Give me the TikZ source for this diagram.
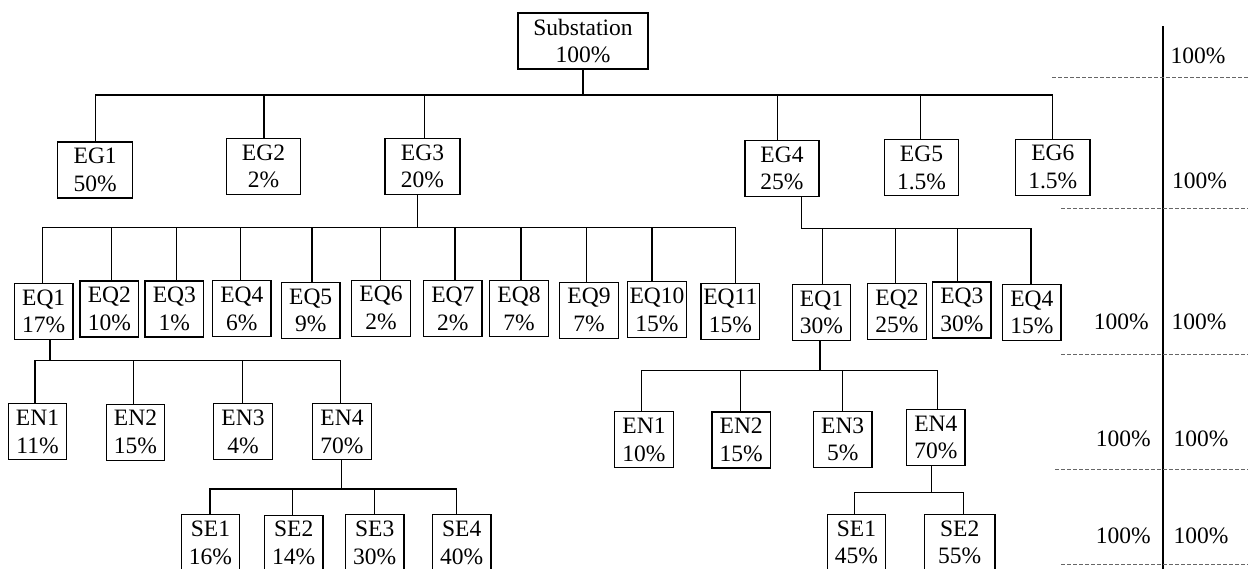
\documentclass[tikz,border=0pt]{standalone}
\usepackage{fontspec}
\setmainfont{Liberation Serif}
\newcommand\bxfont{\fontsize{23.5}{27.7}\selectfont}
\tikzset{
  box/.style={draw, line width=1.2pt, align=center, inner sep=0pt,
    minimum width=#1, minimum height=56pt, font=\bxfont},
  box/.default=58.5pt,
  wire/.style={line width=1.2pt, line cap=rect},
  pct/.style={inner sep=0pt, font=\bxfont},
  guide/.style={line width=1pt, draw=black!60, dash pattern=on 3.5pt off 2.5pt},
  vline/.style={line width=1.1pt}
}
\newcommand\stm[3]{\draw[wire] ([xshift=#2pt]#1.north) -- ([xshift=#2pt]#1.north |- #3);}
\newcommand\drp[3]{\draw[wire] ([xshift=#2pt]#1.south) -- ([xshift=#2pt]#1.south |- #3);}
\newcommand\bus[5]{\draw[wire] ([xshift=#2pt]#1 |- #5) -- ([xshift=#4pt]#3 |- #5);}
\begin{document}
\begin{tikzpicture}[x=1pt,y=-1pt]
\clip (0,0) rectangle (1248,568);
\fill[white] (0,0) rectangle (1248,568);
% bus levels
\coordinate (b0) at (0,95);
\coordinate (b1) at (0,227.3);
\coordinate (b2) at (0,228.3);
\coordinate (b3) at (0,360.7);
\coordinate (b4) at (0,370.7);
\coordinate (b5) at (0,489);
\coordinate (b6) at (0,492.3);
% level 0
\node[box=130pt] (Sub) at (583,41) {Substation\\100\%};
% level 1
\node[box=75pt] (EG1) at (95.2,170) {EG1\\50\%};
\node[box=74.4pt] (EG2) at (263.5,166.5) {EG2\\2\%};
\node[box=75pt] (EG3) at (422.5,166.3) {EG3\\20\%};
\node[box=74pt] (EG4) at (782,168.3) {EG4\\25\%};
\node[box=74.4pt] (EG5) at (921.5,167.8) {EG5\\1.5\%};
\node[box=74.3pt] (EG6) at (1052.8,167.2) {EG6\\1.5\%};
% level 2 left
\node[box] (EQa1) at (43.7,311.3) {EQ1\\17\%};
\node[box] (EQa2) at (109.3,309) {EQ2\\10\%};
\node[box] (EQa3) at (174.3,309) {EQ3\\1\%};
\node[box] (EQa4) at (241.8,308.7) {EQ4\\6\%};
\node[box] (EQa5) at (310.7,310.5) {EQ5\\9\%};
\node[box] (EQa6) at (381,308.2) {EQ6\\2\%};
\node[box] (EQa7) at (452.8,308.7) {EQ7\\2\%};
\node[box] (EQa8) at (519,308.5) {EQ8\\7\%};
\node[box] (EQa9) at (589,310.2) {EQ9\\7\%};
\node[box] (EQa10) at (657,309.8) {EQ10\\15\%};
\node[box] (EQa11) at (730.3,311.2) {EQ11\\15\%};
% level 2 right
\node[box] (EQb1) at (821.5,312.3) {EQ1\\30\%};
\node[box] (EQb2) at (897,311.3) {EQ2\\25\%};
\node[box] (EQb3) at (961.8,310) {EQ3\\30\%};
\node[box] (EQb4) at (1031.8,312.3) {EQ4\\15\%};
% level 3 left
\node[box] (ENa1) at (37.5,431.7) {EN1\\11\%};
\node[box] (ENa2) at (135.5,432.2) {EN2\\15\%};
\node[box] (ENa3) at (243,431.7) {EN3\\4\%};
\node[box] (ENa4) at (342,431.7) {EN4\\70\%};
% level 3 right
\node[box] (ENb1) at (644,439.7) {EN1\\10\%};
\node[box] (ENb2) at (741.2,440) {EN2\\15\%};
\node[box] (ENb3) at (842.7,439.3) {EN3\\5\%};
\node[box] (ENb4) at (935.8,437.3) {EN4\\70\%};
% level 4 left
\node[box] (SEa1) at (210.5,542.7) {SE1\\16\%};
\node[box] (SEa2) at (293.7,543.2) {SE2\\14\%};
\node[box] (SEa3) at (374.7,542.7) {SE3\\30\%};
\node[box] (SEa4) at (461.7,542.7) {SE4\\40\%};
% level 4 right
\node[box] (SEb1) at (856.5,542.5) {SE1\\45\%};
\node[box=70.7pt] (SEb2) at (959.7,542.5) {SE2\\55\%};
% --- connectors: substation
\drp{Sub}{0}{b0}
\bus{EG1.north}{0}{EG6.north}{-0.5}{b0}
\stm{EG1}{0}{b0}\stm{EG2}{0.5}{b0}\stm{EG3}{1.8}{b0}
\stm{EG4}{-4.7}{b0}\stm{EG5}{-0.8}{b0}\stm{EG6}{-0.5}{b0}
% EG3 children
\drp{EG3}{-5.2}{b1}
\bus{EQa1.north}{-1}{EQa11.north}{5}{b1}
\stm{EQa1}{-1}{b1}\stm{EQa2}{2.4}{b1}\stm{EQa3}{2.4}{b1}\stm{EQa4}{-1.1}{b1}
\stm{EQa5}{1.3}{b1}\stm{EQa6}{-0.3}{b1}\stm{EQa7}{2.2}{b1}\stm{EQa8}{2}{b1}
\stm{EQa9}{-2.3}{b1}\stm{EQa10}{-5}{b1}\stm{EQa11}{5}{b1}
% EG4 children
\drp{EG4}{19.7}{b2}
\bus{EG4.south}{19.7}{EQb4.north}{-0.8}{b2}
\stm{EQb1}{1.2}{b2}\stm{EQb2}{-1.3}{b2}\stm{EQb3}{-4.5}{b2}\stm{EQb4}{-0.8}{b2}
% EQ1 left children
\drp{EQa1}{6.3}{b3}
\bus{ENa1.north}{-2.5}{ENa4.north}{-1.3}{b3}
\stm{ENa1}{-2.5}{b3}\stm{ENa2}{-2.2}{b3}\stm{ENa3}{-0.3}{b3}\stm{ENa4}{-1.3}{b3}
% EQ1 right children
\drp{EQb1}{-1.5}{b4}
\bus{ENb1.north}{-2.4}{ENb4.north}{2}{b4}
\stm{ENb1}{-2.4}{b4}\stm{ENb2}{-0.7}{b4}\stm{ENb3}{0}{b4}\stm{ENb4}{2}{b4}
% EN4 left children
\drp{ENa4}{-0.3}{b5}
\bus{SEa1.north}{-0.5}{SEa4.north}{-5}{b5}
\stm{SEa1}{-0.5}{b5}\stm{SEa2}{-1}{b5}\stm{SEa3}{0}{b5}\stm{SEa4}{-5}{b5}
% EN4 right children
\drp{ENb4}{-4.1}{b6}
\bus{SEb1.north}{-2.2}{SEb2.north}{4}{b6}
\stm{SEb1}{-2.2}{b6}\stm{SEb2}{4}{b6}
% --- right-hand column
\coordinate (vtop) at (1163,26);
\coordinate (vbot) at (1163,570);
\draw[vline] (vtop) -- (vbot);
\coordinate (g0a) at (1052,77.3);  \coordinate (g0b) at (1248,77.3);
\coordinate (g1a) at (1061,208.3); \coordinate (g1b) at (1248,208.3);
\coordinate (g2a) at (1061,354.3); \coordinate (g2b) at (1248,354.3);
\coordinate (g3a) at (1055,469);   \coordinate (g3b) at (1248,469);
\coordinate (g4a) at (1061,564.3); \coordinate (g4b) at (1248,564.3);
\draw[guide] (g0a) -- (g0b);
\draw[guide] (g1a) -- (g1b);
\draw[guide] (g2a) -- (g2b);
\draw[guide] (g3a) -- (g3b);
\draw[guide] (g4a) -- (g4b);
\node[pct, anchor=base west] (r0) at (1170.5,63.3) {100\%};
\node[pct, anchor=base west] (r1) at (1172,188.3) {100\%};
\node[pct, anchor=base east] (l2) at (1149,329.3) {100\%};
\node[pct, anchor=base west] (r2) at (1171.5,329.3) {100\%};
\node[pct, anchor=base east] (l3) at (1151,446.7) {100\%};
\node[pct, anchor=base west] (r3) at (1173.5,446.7) {100\%};
\node[pct, anchor=base east] (l4) at (1151,543.3) {100\%};
\node[pct, anchor=base west] (r4) at (1173.5,543.3) {100\%};
\end{tikzpicture}
\end{document}
